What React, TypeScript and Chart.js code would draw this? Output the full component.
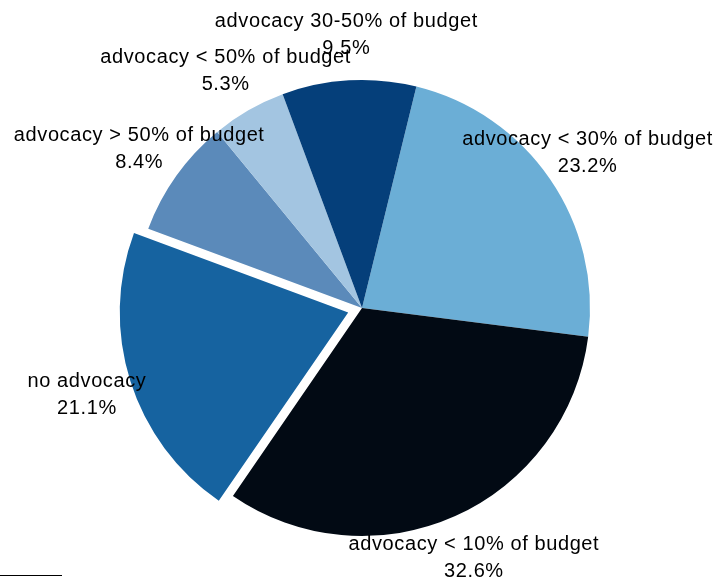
import React, { useEffect, useRef } from "react";
import { Chart, registerables } from "chart.js";

Chart.register(...registerables);

const categories: string[] = [
  "advocacy < 30% of budget",
  "advocacy < 10% of budget",
  "no advocacy",
  "advocacy > 50% of budget",
  "advocacy < 50% of budget",
  "advocacy 30-50% of budget",
];
const shares: number[] = [23.2, 32.6, 21.1, 8.4, 5.3, 9.5];
const sliceColors: string[] = ["#6baed6", "#020a14", "#1663a0", "#5b8aba", "#a3c5e1", "#053f7a"];
const explode: number[] = [0, 0, 58, 0, 0, 0];

const labelPlugin = {
  id: "pieLabels",
  afterDatasetsDraw(chart: any) {
    const ctx = chart.ctx;
    const meta = chart.getDatasetMeta(0);
    ctx.save();
    ctx.font = "20px 'Liberation Sans', Arial, Helvetica, sans-serif";
    try { (ctx as any).letterSpacing = "0.6px"; } catch (e) {}
    ctx.fillStyle = "#000000";
    ctx.textAlign = "center";
    ctx.textBaseline = "middle";
    meta.data.forEach((arc: any, i: number) => {
      const p = arc.getProps(["x", "y", "startAngle", "endAngle", "outerRadius", "circumference"], true);
      const mid = (p.startAngle + p.endAngle) / 2;
      const off = (explode[i] || 0) / 4;
      const circ = p.endAngle - p.startAngle;
      const fix = 1 - Math.sin(Math.min(Math.PI, circ));
      const trans = off * (1 + fix);
      const d = p.outerRadius * 1.2 + trans;
      const lx = p.x + Math.cos(mid) * d;
      const ly = p.y + Math.sin(mid) * d;
      ctx.fillText(categories[i], lx, ly - 13.5);
      ctx.fillText(shares[i].toFixed(1) + "%", lx, ly + 13.5);
    });
    ctx.restore();
  },
};

export default function App() {
  const ref = useRef<HTMLCanvasElement | null>(null);
  useEffect(() => {
    if (!ref.current) return;
    const chart = new Chart(ref.current, {
      type: "pie",
      data: {
        labels: categories,
        datasets: [
          {
            data: shares,
            backgroundColor: sliceColors,
            borderWidth: 0,
            offset: explode,
            radius: 228,
          } as any,
        ],
      },
      options: {
        animation: false,
        responsive: false,
        rotation: 13.8,
        layout: { padding: { left: 8, right: 0, top: 38, bottom: 0 } },
        plugins: {
          legend: { display: false },
          tooltip: { enabled: false },
        },
        events: [],
      } as any,
      plugins: [labelPlugin],
    });
    return () => chart.destroy();
  }, []);
  return (
    <div style={{ position: "fixed", left: 0, top: 0, width: 716, height: 578, background: "#ffffff" }}>
      <canvas ref={ref} width={716} height={578} style={{ width: 716, height: 578, display: "block" }} />
      <div style={{ position: "absolute", left: 0, top: 575, width: 62, height: 1, background: "#000000" }} />
    </div>
  );
}
